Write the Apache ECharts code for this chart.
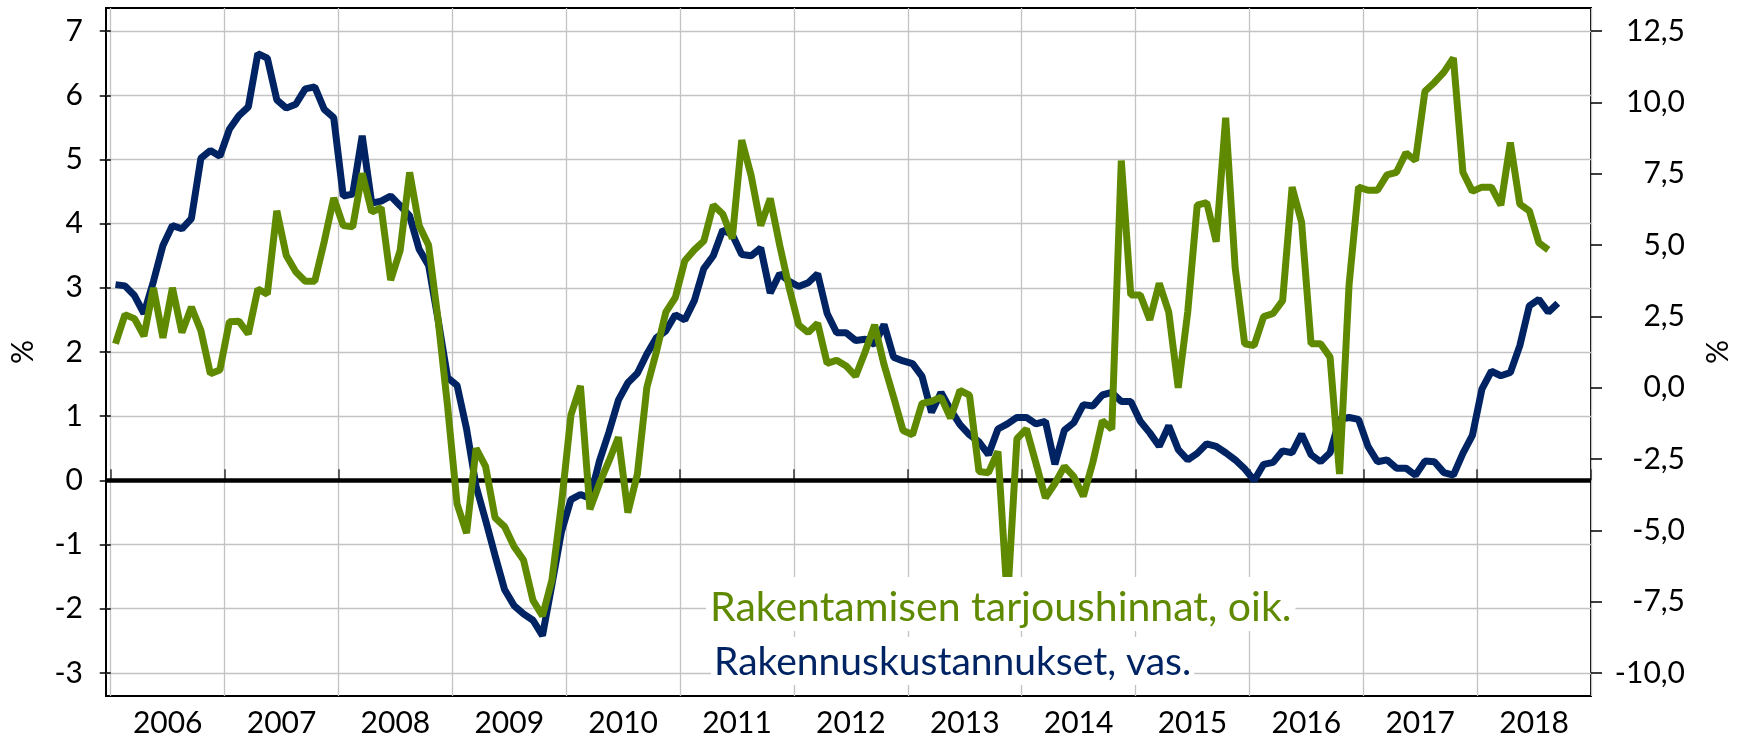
<!DOCTYPE html>
<html>
<head>
<meta charset="utf-8">
<script src="https://cdn.jsdelivr.net/npm/echarts@6/dist/echarts.min.js"></script>
<style>
  html, body { margin: 0; padding: 0; background: #fff; }
  #main { width: 1741px; height: 738px; }
</style>
</head>
<body>
<div id="main"></div>
<script>
// kuukausittain, alkaen 2006-01
const years = ['2006', '2007', '2008', '2009', '2010', '2011', '2012', '2013', '2014', '2015', '2016', '2017', '2018'];

// Rakennuskustannukset, vas. (%)
const rakennuskustannukset = [
  3.05, 3.03, 2.88, 2.6, 3.1, 3.66, 3.97, 3.92, 4.08, 5.02, 5.14, 5.05,
  5.47, 5.68, 5.82, 6.65, 6.58, 5.93, 5.8, 5.86, 6.1, 6.13, 5.78, 5.65,
  4.43, 4.46, 5.37, 4.32, 4.35, 4.43, 4.28, 4.12, 3.6, 3.35, 2.5, 1.6,
  1.48, 0.8, -0.09, -0.62, -1.17, -1.7, -1.95, -2.08, -2.18, -2.42, -1.62, -0.8,
  -0.3, -0.22, -0.28, 0.3, 0.75, 1.25, 1.52, 1.67, 1.97, 2.22, 2.33, 2.58,
  2.5, 2.8, 3.3, 3.5, 3.9, 3.83, 3.52, 3.5, 3.62, 2.92, 3.22, 3.1,
  3.02, 3.08, 3.22, 2.6, 2.3, 2.3, 2.18, 2.2, 2.12, 2.43, 1.92, 1.86,
  1.82, 1.62, 1.06, 1.37, 1.1, 0.87, 0.71, 0.6, 0.4, 0.8, 0.88, 0.98,
  0.98, 0.88, 0.92, 0.25, 0.78, 0.9, 1.18, 1.16, 1.33, 1.37, 1.23, 1.23,
  0.92, 0.74, 0.53, 0.85, 0.48, 0.32, 0.42, 0.57, 0.53, 0.43, 0.32, 0.18,
  0.0, 0.25, 0.28, 0.46, 0.43, 0.72, 0.4, 0.29, 0.43, 0.95, 0.98, 0.95,
  0.53, 0.29, 0.32, 0.19, 0.19, 0.08, 0.3, 0.29, 0.12, 0.08, 0.42, 0.7,
  1.42, 1.7, 1.63, 1.68, 2.1, 2.72, 2.82, 2.62, 2.76
];

// Rakentamisen tarjoushinnat, oik. (%)
const tarjoushinnat = [
  1.54, 2.56, 2.42, 1.81, 3.5, 1.75, 3.5, 1.93, 2.83, 2.0, 0.49, 0.62,
  2.31, 2.33, 1.88, 3.46, 3.28, 6.2, 4.63, 4.06, 3.73, 3.73, 5.12, 6.65,
  5.68, 5.64, 7.51, 6.16, 6.31, 3.77, 4.81, 7.55, 5.68, 4.99, 2.38, -0.66,
  -4.08, -5.1, -2.13, -2.76, -4.56, -4.87, -5.57, -6.04, -7.46, -8.0, -6.74, -4.08,
  -0.96, 0.06, -4.26, -3.36, -2.58, -1.74, -4.38, -3.03, 0.01, 1.25, 2.65, 3.16,
  4.45, 4.83, 5.14, 6.4, 6.09, 5.23, 8.68, 7.42, 5.68, 6.63, 4.99, 3.5,
  2.2, 1.93, 2.26, 0.85, 0.96, 0.76, 0.4, 1.25, 2.2, 0.8, -0.33, -1.5,
  -1.65, -0.55, -0.48, -0.33, -1.07, -0.1, -0.26, -2.94, -2.98, -2.24, -7.5, -1.79,
  -1.45, -2.64, -3.86, -3.36, -2.76, -3.12, -3.81, -2.62, -1.16, -1.45, 7.96, 3.25,
  3.25, 2.38, 3.66, 2.65, -0.01, 2.65, 6.4, 6.49, 5.12, 9.46, 4.2, 1.54,
  1.48, 2.49, 2.6, 3.05, 7.03, 5.8, 1.54, 1.54, 1.07, -3.03, 3.59, 7.03,
  6.92, 6.92, 7.46, 7.55, 8.23, 7.96, 10.39, 10.7, 11.06, 11.56, 7.55, 6.88,
  7.03, 7.03, 6.4, 8.59, 6.43, 6.2, 5.08, 4.83
];

const leftTicks = [-3, -2, -1, 0, 1, 2, 3, 4, 5, 6, 7];
const rightTicks = [-10, -7.5, -5, -2.5, 0, 2.5, 5, 7.5, 10, 12.5];

const navy = '#002463';
const green = '#5f8a00';
const font = 'Lato';

// vuosien rajat ja keskikohdat kuukausina
const yearBounds = years.map((y, i) => i * 12).concat([years.length * 12]);
const yearMids = years.map((y, i) => i * 12 + 6);

function toPoints(arr) {
  return arr.map((v, i) => [i + 0.5, v]);
}

const chart = echarts.init(document.getElementById('main'), null, { renderer: 'canvas' });

chart.setOption({
  animation: false,
  backgroundColor: '#fff',
  grid: {
    left: 99, right: 146, top: 8, bottom: 42,
    show: true, borderColor: '#000', borderWidth: 2
  },
  title: [
    {
      text: 'Rakentamisen tarjoushinnat, oik.',
      left: 706, top: 577,
      backgroundColor: '#fff',
      padding: [10, 4, 3, 4],
      textStyle: { fontFamily: font, fontSize: 41, fontWeight: 'normal', color: green, lineHeight: 41 }
    },
    {
      text: 'Rakennuskustannukset, vas.',
      left: 711, top: 637,
      backgroundColor: '#fff',
      padding: [6, 3, 3, 3],
      textStyle: { fontFamily: font, fontSize: 39, fontWeight: 'normal', color: navy, lineHeight: 39 }
    }
  ],
  xAxis: {
    type: 'value',
    min: -0.5,
    max: years.length * 12,
    axisLine: { show: false },
    axisTick: {
      show: true, inside: true, length: 11,
      customValues: yearBounds,
      lineStyle: { color: '#333', width: 1.5 }
    },
    axisLabel: {
      customValues: yearMids,
      formatter: v => years[Math.round((v - 6) / 12)],
      fontFamily: font, fontSize: 30, color: '#000', margin: 12
    },
    splitLine: { show: true, lineStyle: { color: '#c3c3c3', width: 1.3 } }
  },
  yAxis: [
    {
      type: 'value',
      min: -3.36, max: 7.36,
      name: '%', nameLocation: 'middle', nameRotate: 90, nameGap: 68,
      nameTextStyle: { fontFamily: font, fontSize: 30, color: '#000' },
      axisLine: { show: false },
      axisTick: { show: true, length: 11, customValues: leftTicks, lineStyle: { color: '#000', width: 1.5 } },
      axisLabel: { customValues: leftTicks, fontFamily: font, fontSize: 30, color: '#000', margin: 23 },
      splitLine: { show: true, lineStyle: { color: '#c3c3c3', width: 1.3 } }
    },
    {
      type: 'value',
      min: -10.81, max: 13.31,
      name: '%', nameLocation: 'middle', nameRotate: 90, nameGap: 112,
      nameTextStyle: { fontFamily: font, fontSize: 30, color: '#000' },
      axisLine: { show: false },
      axisTick: { show: true, length: 11, customValues: rightTicks, lineStyle: { color: '#000', width: 1.5 } },
      axisLabel: {
        customValues: rightTicks,
        formatter: v => v.toFixed(1).replace('.', ','),
        fontFamily: font, fontSize: 30, color: '#000', margin: 94, align: 'right'
      },
      splitLine: { show: false }
    }
  ],
  series: [
    {
      name: 'Rakennuskustannukset, vas.',
      type: 'line',
      yAxisIndex: 0,
      data: toPoints(rakennuskustannukset),
      showSymbol: false,
      lineStyle: { color: navy, width: 7 },
      markLine: {
        silent: true, z: 1,
        symbol: ['none', 'none'],
        label: { show: false },
        lineStyle: { color: '#000', width: 4.5, type: 'solid' },
        data: [{ yAxis: 0 }]
      }
    },
    {
      name: 'Rakentamisen tarjoushinnat, oik.',
      type: 'line',
      yAxisIndex: 1,
      data: toPoints(tarjoushinnat),
      showSymbol: false,
      lineStyle: { color: green, width: 7 }
    }
  ]
});
</script>
</body>
</html>
